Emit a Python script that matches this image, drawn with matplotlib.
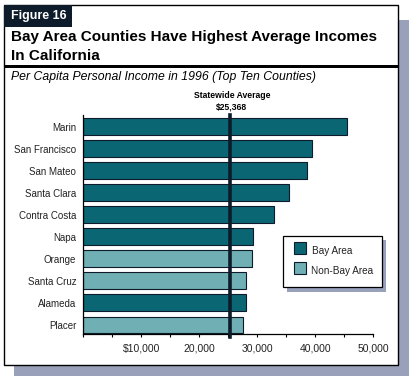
import matplotlib
matplotlib.use("Agg")
import matplotlib.pyplot as plt
from matplotlib.patches import Rectangle

plt.rcParams['font.family'] = ['Liberation Sans', 'DejaVu Sans']

# Data
counties = ["Marin", "San Francisco", "San Mateo", "Santa Clara", "Contra Costa",
            "Napa", "Orange", "Santa Cruz", "Alameda", "Placer"]
income = [45400, 39400, 38500, 35400, 32900, 29300, 29000, 28000, 28000, 27600]
bay_area = [True, True, True, True, True, True, False, False, True, False]
statewide_avg = 25368
tick_vals = [10000, 20000, 30000, 40000, 50000]
tick_labels = ["$10,000", "20,000", "30,000", "40,000", "50,000"]

W, H = 416, 380
dark = "#0b6674"
light = "#70b0b5"
navy = "#0d1b2a"
shadow = "#99a0b9"
label_col = "#222222"

fig = plt.figure(figsize=(W / 100, H / 100), dpi=100)
fig.patch.set_facecolor("white")


def px(x, y, w, h):
    # pixel box (top-left origin) -> figure fraction
    return (x / W, 1 - (y + h) / H, w / W, h / H)


def rect(x, y, w, h, **kw):
    l, b, ww, hh = px(x, y, w, h)
    fig.patches.append(Rectangle((l, b), ww, hh, transform=fig.transFigure, **kw))


def text(x, y, s, **kw):
    fig.text(x / W, 1 - y / H, s, **kw)


# frame + shadow
rect(14, 20, 395, 356, facecolor=shadow, edgecolor="none", zorder=0)
rect(4, 5, 394, 360, facecolor="white", edgecolor="black", linewidth=1, zorder=1)
# header
rect(4, 5, 68, 22, facecolor=navy, edgecolor="none", zorder=2)
text(11, 16, "Figure 16", color="white", fontsize=9, fontweight="bold", va="center", zorder=3)
text(11, 37, "Bay Area Counties Have Highest Average Incomes", fontsize=11,
     fontweight="bold", va="center", zorder=3)
text(11, 55.5, "In California", fontsize=11, fontweight="bold", va="center", zorder=3)
rect(4, 65, 394, 2.5, facecolor="black", edgecolor="none", zorder=2)
text(11, 77, "Per Capita Personal Income in 1996 (Top Ten Counties)", fontsize=8.8,
     style="italic", va="center", zorder=3)

# chart
ax = fig.add_axes(px(83.3, 115, 290, 219))
ax.set_zorder(4)
ax.patch.set_alpha(0)
ypos = list(range(len(counties)))[::-1]
colors = [dark if b else light for b in bay_area]
ax.barh(ypos, income, height=0.75, color=colors, edgecolor=navy, linewidth=0.8, zorder=2)
ax.set_ylim(-0.42, 9.53)
ax.set_xlim(0, 50000)
ax.set_yticks(ypos)
ax.set_yticklabels(counties, fontsize=7, color=label_col)
ax.tick_params(axis="y", length=0, pad=5)
ax.set_xticks(range(0, 50001, 5000), minor=True)
ax.set_xticks(tick_vals)
ax.set_xticklabels(tick_labels, fontsize=7.5, color=label_col)
ax.tick_params(axis="x", which="both", length=2, width=0.8, pad=5)
for s in ["top", "right"]:
    ax.spines[s].set_visible(False)
for s in ["left", "bottom"]:
    ax.spines[s].set_linewidth(0.9)
ax.plot([statewide_avg, statewide_avg], [-0.55, 9.53], color=navy, linewidth=2.6,
        zorder=3, clip_on=False)
text(232, 96, "Statewide Average", fontsize=6.2, fontweight="bold", ha="center", va="center", zorder=5)
text(232, 107, "$25,368", fontsize=6.2, fontweight="bold", ha="center", va="center", zorder=5)

# legend
rect(287, 240, 99, 52, facecolor=shadow, edgecolor="none", zorder=5)
rect(283.3, 236, 99, 51, facecolor="white", edgecolor="black", linewidth=0.9, zorder=6)
rect(294, 242, 12, 12, facecolor=dark, edgecolor=navy, linewidth=0.8, zorder=7)
rect(294, 262, 12, 12, facecolor=light, edgecolor=navy, linewidth=0.8, zorder=7)
text(312, 251, "Bay Area", fontsize=7.2, va="center", color=label_col, zorder=7)
text(311, 271, "Non-Bay Area", fontsize=7.2, va="center", color=label_col, zorder=7)

fig.savefig("out.png", dpi=100)
